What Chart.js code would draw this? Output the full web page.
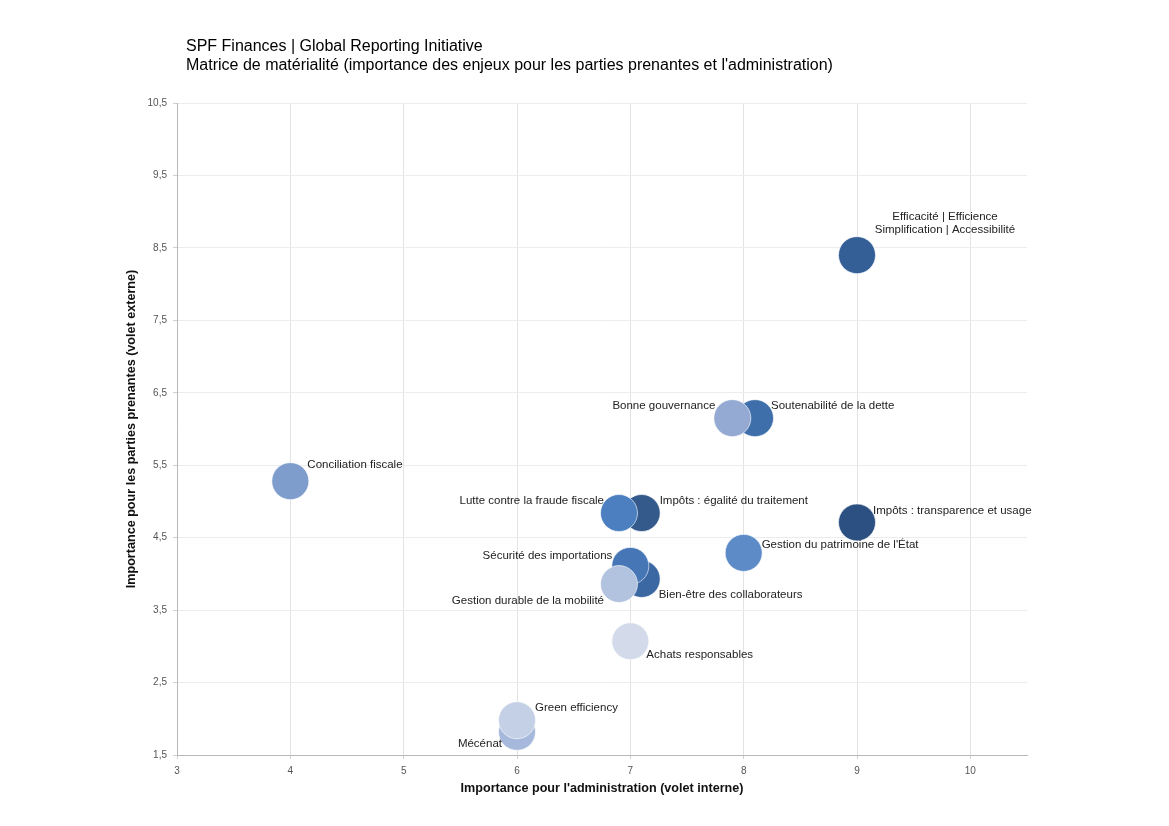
<!DOCTYPE html>
<html lang="fr">
<head>
<meta charset="utf-8">
<title>Matrice de matérialité</title>
<script src="https://cdn.jsdelivr.net/npm/chart.js@4/dist/chart.umd.min.js"></script>
<style>
    html, body { margin: 0; padding: 0; background: #fff; }
    #cadre { position: relative; width: 1169px; height: 826px; }
    #titre {
        position: absolute; left: 186px; top: 36px;
        font-family: "Liberation Sans", Arial, sans-serif; font-size: 16px; line-height: 19px; color: #000;
    }
    #grafico { position: absolute; left: 0; top: 0; }
</style>
</head>
<body>
<div id="cadre">
    <canvas id="grafico" width="1169" height="826"></canvas>
    <div id="titre">SPF Finances | Global Reporting Initiative<br>Matrice de matérialité (importance des enjeux pour les parties prenantes et l'administration)</div>
</div>
<script>
// enjeux, dans l'ordre de dessin (les derniers passent devant)
var enjeux = [
    ['Efficacité | Efficience', 'Simplification | Accessibilité'],
    'Soutenabilité de la dette',
    'Bonne gouvernance',
    'Conciliation fiscale',
    'Impôts : égalité du traitement',
    'Lutte contre la fraude fiscale',
    'Impôts : transparence et usage',
    'Gestion du patrimoine de l\'État',
    'Bien-être des collaborateurs',
    'Sécurité des importations',
    'Gestion durable de la mobilité',
    'Achats responsables',
    'Mécénat',
    'Green efficiency'
];
var importanceAdministration = [9, 8.1, 7.9, 4, 7.1, 6.9, 9, 8, 7.1, 7, 6.9, 7, 6, 6];
var importanceParties = [8.4, 6.15, 6.15, 5.28, 4.84, 4.84, 4.71, 4.29, 3.93, 4.11, 3.86, 3.07, 1.82, 1.98];
var ticksX = [3, 4, 5, 6, 7, 8, 9, 10];
var ticksY = [1.5, 2.5, 3.5, 4.5, 5.5, 6.5, 7.5, 8.5, 9.5, 10.5];

var coresBolhas = ['#335f96', '#3f6faa', '#94aad2', '#7e9dcc', '#345a8c', '#4b7fbf', '#2d5082',
    '#5d8bc7', '#3b67a3', '#4676b6', '#b2c3df', '#d3dbeb', '#a6b9dc', '#c4d0e5'];
// position des étiquettes par rapport au centre de la bulle (px)
var posEtiquettes = [
    { dx: 88, dy: -38, align: 'center' },
    { dx: 16, dy: -12, align: 'left' },
    { dx: -17, dy: -12, align: 'right' },
    { dx: 17, dy: -16, align: 'left' },
    { dx: 18, dy: -12, align: 'left' },
    { dx: -15, dy: -12, align: 'right' },
    { dx: 16, dy: -12, align: 'left' },
    { dx: 18, dy: -8, align: 'left' },
    { dx: 17, dy: 16, align: 'left' },
    { dx: -18, dy: -10, align: 'right' },
    { dx: -15, dy: 17, align: 'right' },
    { dx: 16, dy: 14, align: 'left' },
    { dx: -15, dy: 12, align: 'right' },
    { dx: 18, dy: -12, align: 'left' }
];

var pontos = enjeux.map(function (nome, i) {
    return { x: importanceAdministration[i], y: importanceParties[i] };
});

var pluginEtiquettes = {
    id: 'etiquettes',
    afterDatasetsDraw: function (chart) {
        var ctx = chart.ctx;
        var meta = chart.getDatasetMeta(0);
        ctx.save();
        ctx.font = '11.5px "Liberation Sans", Arial, sans-serif';
        ctx.fillStyle = '#222';
        ctx.textBaseline = 'middle';
        meta.data.forEach(function (ponto, i) {
            var p = posEtiquettes[i];
            var linhas = Array.isArray(enjeux[i]) ? enjeux[i] : [enjeux[i]];
            ctx.textAlign = p.align;
            linhas.forEach(function (linha, j) {
                ctx.fillText(linha, ponto.x + p.dx, ponto.y + p.dy + j * 13);
            });
        });
        ctx.restore();
    }
};

function fixarTicks(valores) {
    return function (escala) {
        escala.ticks = valores.map(function (v) { return { value: v }; });
    };
}

var fonteTicks = { family: '"Liberation Sans", Arial, sans-serif', size: 10 };
var fonteTitulo = { family: '"Liberation Sans", Arial, sans-serif', size: 12.6, weight: 'bold' };

new Chart(document.getElementById('grafico'), {
    type: 'bubble',
    data: {
        datasets: [{
            data: pontos,
            backgroundColor: coresBolhas,
            borderColor: 'rgba(255,255,255,0.6)',
            borderWidth: 1,
            radius: 18.5,
            hoverRadius: 0
        }]
    },
    options: {
        responsive: false,
        animation: false,
        layout: { padding: { left: 120, right: 142, top: 103, bottom: 26 } },
        plugins: {
            legend: { display: false },
            tooltip: { enabled: false }
        },
        scales: {
            x: {
                type: 'linear', min: 3, max: 10.5,
                afterBuildTicks: fixarTicks(ticksX),
                afterFit: function (escala) { escala.height = 45; },
                grid: { color: '#e3e3e3', tickLength: 4, tickColor: '#cfcfcf' },
                border: { color: '#b8b8b8' },
                ticks: { color: '#555', font: fonteTicks, padding: 6, maxRotation: 0 },
                title: {
                    display: true, text: 'Importance pour l\'administration (volet interne)',
                    color: '#111', font: fonteTitulo, padding: { top: 4, bottom: 4 }
                }
            },
            y: {
                type: 'linear', min: 1.5, max: 10.5,
                afterBuildTicks: fixarTicks(ticksY),
                afterFit: function (escala) { escala.width = 57; },
                grid: { color: '#ececec', tickLength: 4, tickColor: '#cfcfcf' },
                border: { color: '#b8b8b8' },
                ticks: {
                    color: '#555', font: fonteTicks, padding: 6,
                    callback: function (v) { return String(v).replace('.', ','); }
                },
                title: {
                    display: true, text: 'Importance pour les parties prenantes (volet externe)',
                    color: '#111', font: fonteTitulo, padding: { top: 4, bottom: 4 }
                }
            }
        }
    },
    plugins: [pluginEtiquettes]
});
</script>
</body>
</html>
